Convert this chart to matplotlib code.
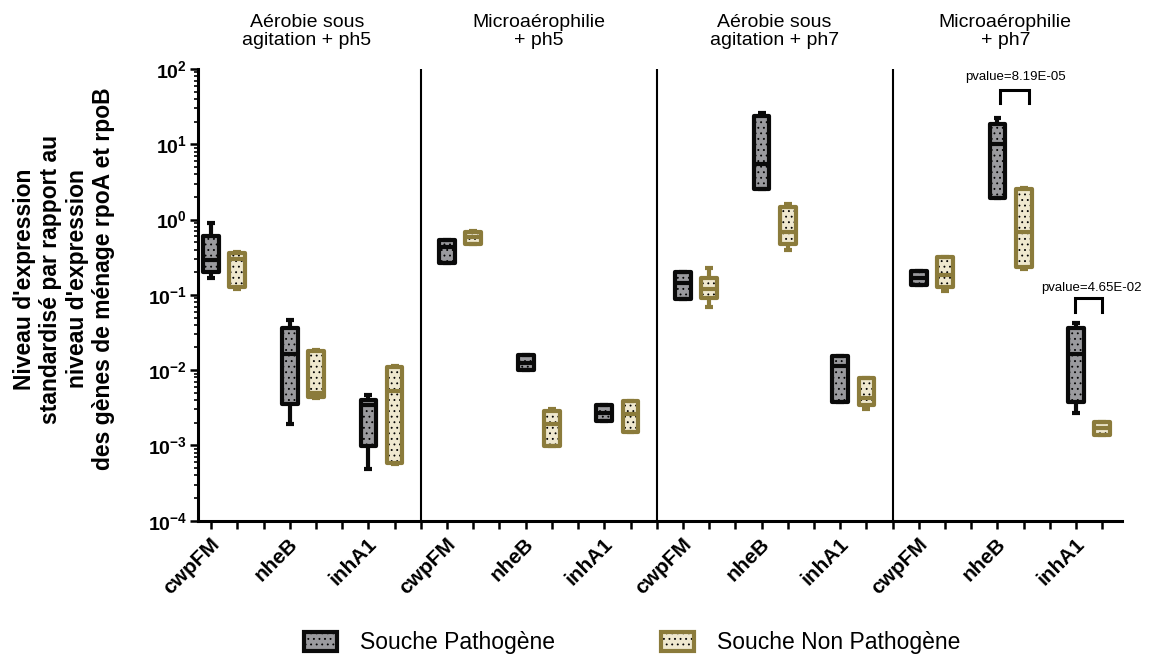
import numpy as np
import matplotlib
matplotlib.use("Agg")
import matplotlib.pyplot as plt
from matplotlib.ticker import FixedLocator, LogLocator, FuncFormatter, NullFormatter
from matplotlib.transforms import blended_transform_factory
from matplotlib.patches import Patch

plt.rcParams['font.family'] = ['Liberation Sans', 'DejaVu Sans']
plt.rcParams['mathtext.fontset'] = 'custom'
plt.rcParams['mathtext.bf'] = 'Liberation Sans:bold'
plt.rcParams['mathtext.rm'] = 'Liberation Sans'
plt.rcParams['hatch.linewidth'] = 0.6

# ---------------- data ----------------
conditions = ['Aérobie sous\nagitation + ph5', 'Microaérophilie\n+ ph5',
              'Aérobie sous\nagitation + ph7', 'Microaérophilie\n+ ph7']
genes = ['cwpFM', 'nheB', 'inhA1']
strains = ['Souche Pathogène', 'Souche Non Pathogène']

# order: (cond1: cwpFM, nheB, inhA1), (cond2: ...), (cond3: ...), (cond4: ...)
path_min = [0.17, 0.0019, 0.00049,  0.267, 0.0100, 0.0021,  0.087, 2.53, 0.0038,  0.137, 1.92, 0.0027]
path_q1  = [0.203, 0.0036, 0.00097, 0.267, 0.0100, 0.0021,  0.087, 2.53, 0.0038,  0.137, 1.92, 0.0038]
path_med = [0.29, 0.0164, 0.0034,   0.43, 0.0126, 0.0027,   0.144, 5.4, 0.0114,   0.168, 10.0, 0.0164]
path_q3  = [0.606, 0.0358, 0.0040,  0.536, 0.0158, 0.0034,  0.203, 23.5, 0.0155,  0.207, 18.6, 0.0358]
path_max = [0.90, 0.046, 0.0047,    0.536, 0.0158, 0.0034,  0.203, 26.3, 0.0155,  0.207, 22.5, 0.042]

npath_min = [0.12, 0.0043, 0.00057, 0.48, 0.00097, 0.0015,  0.070, 0.40, 0.0030,  0.111, 0.223, 0.00139]
npath_q1  = [0.127, 0.0044, 0.00059, 0.48, 0.00097, 0.0015, 0.0895, 0.48, 0.0034, 0.127, 0.237, 0.00139]
npath_med = [0.30, 0.0050, 0.0053,  0.58, 0.0019, 0.0026,   0.12, 0.68, 0.0042,   0.185, 0.68, 0.0017]
npath_q3  = [0.356, 0.0178, 0.0110, 0.69, 0.00286, 0.0039,  0.170, 1.49, 0.0078,  0.315, 2.53, 0.00205]
npath_max = [0.375, 0.0185, 0.0113, 0.70, 0.0030, 0.0039,   0.227, 1.63, 0.0078,  0.32, 2.6, 0.00205]

pvalue_texts = ['pvalue=8.19E-05', 'pvalue=4.65E-02']

# ---------------- style ----------------
C_PATH_EDGE = '#0a0a0a'
C_PATH_FILL = '#9a9a9e'
C_NP_EDGE = '#8b7b3b'
C_NP_FILL = '#efe8cf'
HATCH = '...'

fig = plt.figure(figsize=(11.52, 6.59), dpi=100)
ax = fig.add_axes([198/1152, 1-520.7/659, (1122-198)/1152, (520.7-69)/659])

# positions: 9 slots per condition
pos_path, pos_np = [], []
for c in range(len(conditions)):
    for g in range(len(genes)):
        p = c*9 + g*3
        pos_path.append(p)
        pos_np.append(p + 1)

def stats(mn, q1, md, q3, mx):
    return [dict(whislo=a, q1=b, med=m, q3=d, whishi=e, fliers=[])
            for a, b, m, d, e in zip(mn, q1, md, q3, mx)]

st_path = stats(path_min, path_q1, path_med, path_q3, path_max)
st_np = stats(npath_min, npath_q1, npath_med, npath_q3, npath_max)

W = 0.6
LW = 3.0
for st, pos, edge, fill in [(st_path, pos_path, C_PATH_EDGE, C_PATH_FILL),
                            (st_np, pos_np, C_NP_EDGE, C_NP_FILL)]:
    # fill layer with black dotted hatch
    ax.bxp(st, positions=pos, widths=W, patch_artist=True, showcaps=False,
           boxprops=dict(facecolor=fill, edgecolor='black', linewidth=0, hatch=HATCH),
           whiskerprops=dict(linewidth=0), medianprops=dict(linewidth=0),
           manage_ticks=False, zorder=2)
    # outline layer
    ax.bxp(st, positions=pos, widths=W, patch_artist=True, capwidths=0.3,
           boxprops=dict(facecolor='none', edgecolor=edge, linewidth=LW, joinstyle='round'),
           whiskerprops=dict(color=edge, linewidth=LW, solid_capstyle='butt'),
           capprops=dict(color=edge, linewidth=LW, solid_capstyle='butt'),
           medianprops=dict(color=edge, linewidth=LW, solid_capstyle='butt'),
           manage_ticks=False, zorder=3)

ax.set_yscale('log')
ax.set_ylim(1e-4, 1e2)
ax.set_xlim(-0.5, 34.75)

ax.yaxis.set_major_locator(FixedLocator([1e-4, 1e-3, 1e-2, 1e-1, 1e0, 1e1, 1e2]))
ax.yaxis.set_minor_locator(LogLocator(base=10, subs=np.arange(2, 10), numticks=50))
ax.yaxis.set_major_formatter(FuncFormatter(lambda v, _: r'$\mathbf{10^{%d}}$' % round(np.log10(v))))
ax.yaxis.set_minor_formatter(NullFormatter())
ax.tick_params(axis='y', which='major', length=6, width=1.8, labelsize=14, pad=2)
ax.tick_params(axis='y', which='minor', length=3, width=1.2)

ax.set_xticks(np.arange(0, 35))
ax.set_xticklabels([])
ax.tick_params(axis='x', which='major', length=6, width=1.8)
ax.tick_params(axis='x', which='minor', bottom=False)

for s in ['top', 'right']:
    ax.spines[s].set_visible(False)
for s in ['left', 'bottom']:
    ax.spines[s].set_linewidth(2.2)

for c in range(1, len(conditions)):
    ax.axvline(c*9 - 1, color='black', lw=1.5, zorder=1)

tr = blended_transform_factory(ax.transData, ax.transAxes)

# condition titles
centers = [3.65, 12.5, 21.5, 30.3]
for cx, t in zip(centers, conditions):
    ax.text(cx, 1.083, t, transform=tr, ha='center', va='center', fontsize=14,
            linespacing=1.02)

# gene labels
for c in range(len(conditions)):
    for g, name in enumerate(genes):
        p = c*9 + g*3
        ax.text(p - 0.05, -0.03, name, transform=tr, rotation=45, ha='right', va='top',
                rotation_mode='anchor', fontsize=15, fontweight='bold')

# y label
fig.text(64/1152, 1-279/659,
         "Niveau d'expression\nstandardisé par rapport au\nniveau d'expression\ndes gènes de ménage rpoA et rpoB",
         rotation=90, ha='center', va='center', fontsize=16.5, fontweight='bold',
         multialignment='center', linespacing=1.2)

# p-value brackets (condition 4: nheB and inhA1)
def bracket(x0, x1, ytop, ybot, text, xt, yt):
    ax.plot([x0, x0, x1, x1], [ybot, ytop, ytop, ybot], color='black', lw=2.2,
            solid_joinstyle='miter', clip_on=False, zorder=4)
    ax.text(xt, yt, text, ha='center', va='center', fontsize=9.5, clip_on=False)

bracket(30.1, 31.2, 52.7, 35.0, pvalue_texts[0], 30.7, 78.0)
bracket(32.95, 34.0, 0.0915, 0.060, pvalue_texts[1], 33.6, 0.124)

# legend
def handle(edge, fill):
    return (Patch(facecolor=fill, edgecolor='black', linewidth=0, hatch=HATCH),
            Patch(facecolor='none', edgecolor=edge, linewidth=3, joinstyle='round'))

handles = [handle(C_PATH_EDGE, C_PATH_FILL), handle(C_NP_EDGE, C_NP_FILL)]
fig.legend(handles, strains, loc='center', bbox_to_anchor=(632/1152, 1-643/659),
           ncol=2, frameon=False, fontsize=16.5, handlelength=1.45, handleheight=0.85,
           handletextpad=1.0, columnspacing=4.6)

fig.savefig('out.png', dpi=100)
